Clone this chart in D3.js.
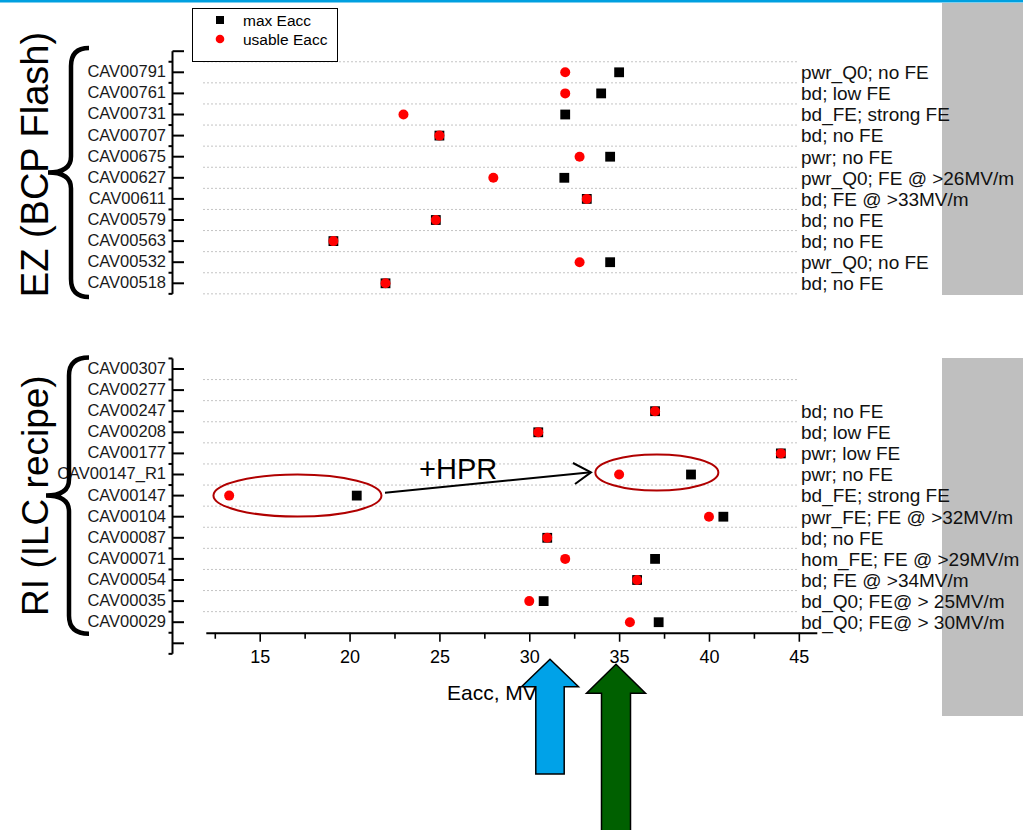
<!DOCTYPE html>
<html>
<head>
<meta charset="utf-8">
<script src="https://cdn.jsdelivr.net/npm/d3@7"></script>
<style>
body { margin: 0; background: #fff; }
text { font-family: "Liberation Sans", Arial, sans-serif; }
</style>
</head>
<body>
<svg id="chart" width="1023" height="830"></svg>
<script>
// EZ (BCP Flash) cavities, top to bottom
let ezCavities = ["CAV00791", "CAV00761", "CAV00731", "CAV00707", "CAV00675", "CAV00627",
    "CAV00611", "CAV00579", "CAV00563", "CAV00532", "CAV00518"];
let ezMax = [35, 34, 32, 25, 34.5, 31.95, 33.2, 24.8, 19.1, 34.5, 22];
let ezUsable = [32, 32, 23, 25, 32.8, 28, 33.2, 24.8, 19.1, 32.8, 22];
let ezNotes = ["pwr_Q0; no FE", "bd; low FE", "bd_FE; strong FE", "bd; no FE", "pwr; no FE",
    "pwr_Q0; FE @ >26MV/m", "bd; FE @ >33MV/m", "bd; no FE", "bd; no FE", "pwr_Q0; no FE", "bd; no FE"];

// RI (ILC recipe) cavities, top to bottom
let riCavities = ["CAV00307", "CAV00277", "CAV00247", "CAV00208", "CAV00177", "CAV00147_R1",
    "CAV00147", "CAV00104", "CAV00087", "CAV00071", "CAV00054", "CAV00035", "CAV00029"];
let riMax = [null, null, 37, 30.5, 44, 39, 20.4, 40.8, 31, 37, 36, 30.8, 37.2];
let riUsable = [null, null, 37, 30.5, 44, 35, 13.3, 40, 31, 32, 36, 30, 35.6];
let riNotes = ["", "", "bd; no FE", "bd; low FE", "pwr; low FE", "pwr; no FE", "bd_FE; strong FE",
    "pwr_FE; FE @ >32MV/m", "bd; no FE", "hom_FE; FE @ >29MV/m", "bd; FE @ >34MV/m",
    "bd_Q0; FE@ > 25MV/m", "bd_Q0; FE@ > 30MV/m"];

let xMajorTicks = [15, 20, 25, 30, 35, 40, 45];
let xMinorTicks = [12.5, 17.5, 22.5, 27.5, 32.5, 37.5, 42.5];

let svg = d3.select("#chart");

let x = d3.scaleLinear().domain([12, 46]).range([205.8, 816.8]);
let yTop = d3.scaleLinear().domain([0, 10]).range([72.3, 283.3]);
let yBot = d3.scaleLinear().domain([0, 12]).range([369, 622.2]);

// grey side panels and top rule
svg.append("rect").attr("x", 942).attr("y", 3).attr("width", 81).attr("height", 292).attr("fill", "#bfbfbf");
svg.append("rect").attr("x", 942).attr("y", 358).attr("width", 81).attr("height", 358).attr("fill", "#bfbfbf");
svg.append("rect").attr("x", 0).attr("y", 0).attr("width", 1023).attr("height", 2.5).attr("fill", "#00a0e0");

function panel(names, maxV, useV, notes, y, gridFrom, gridTo, axisFrom, axisTo) {
    let g = svg.append("g");
    let idx = d3.range(names.length);

    // dotted row separators
    g.selectAll(".grid")
        .data(d3.range(gridFrom, gridTo + 0.01, 1))
        .enter().append("line")
        .attr("x1", 203).attr("x2", 797)
        .attr("y1", d => y(d)).attr("y2", d => y(d))
        .attr("stroke", "#c4c4c4")
        .attr("stroke-dasharray", "2,2");

    // vertical category axis
    g.append("line")
        .attr("x1", 172.5).attr("x2", 172.5)
        .attr("y1", y(axisFrom)).attr("y2", y(axisTo))
        .attr("stroke", "#000").attr("stroke-width", 2);
    let major = [], minor = [];
    for (let v = axisFrom; v <= axisTo + 0.01; v += 0.5) {
        if (Math.abs(v - Math.round(v)) < 0.01) major.push(v); else minor.push(v);
    }
    g.selectAll(".major").data(major).enter().append("line")
        .attr("x1", 172.5).attr("x2", 184)
        .attr("y1", d => y(d)).attr("y2", d => y(d))
        .attr("stroke", "#000").attr("stroke-width", 2);
    g.selectAll(".minor").data(minor).enter().append("line")
        .attr("x1", 168.5).attr("x2", 172.5)
        .attr("y1", d => y(d)).attr("y2", d => y(d))
        .attr("stroke", "#000").attr("stroke-width", 2);

    g.selectAll(".name").data(names).enter().append("text")
        .attr("x", 166).attr("y", (d, i) => y(i)).attr("dy", "0.3em")
        .attr("text-anchor", "end").style("font-size", "16.5px").attr("fill", "#1a1a1a")
        .text(d => d);

    g.selectAll(".note").data(notes).enter().append("text")
        .attr("x", 801).attr("y", (d, i) => y(i)).attr("dy", "0.36em")
        .style("font-size", "19px").attr("fill", "#111")
        .text(d => d);

    g.selectAll(".maxpt").data(idx.filter(i => maxV[i] != null)).enter().append("rect")
        .attr("x", i => x(maxV[i]) - 4.9).attr("y", i => y(i) - 4.9)
        .attr("width", 9.8).attr("height", 9.8).attr("fill", "#000");
    g.selectAll(".usept").data(idx.filter(i => useV[i] != null)).enter().append("circle")
        .attr("cx", i => x(useV[i])).attr("cy", i => y(i))
        .attr("r", 5).attr("fill", "#ff0000");
}

panel(ezCavities, ezMax, ezUsable, ezNotes, yTop, -0.5, 10.5, -1, 10.5);
panel(riCavities, riMax, riUsable, riNotes, yBot, 0.5, 11.5, -0.5, 13.5);

// x axis below the RI panel
let axisY = yBot(12.5);
svg.append("g")
    .attr("transform", "translate(0," + axisY + ")")
    .call(d3.axisBottom(x).tickValues(xMinorTicks).tickSize(6).tickSizeOuter(0).tickFormat(""))
    .call(g => g.select(".domain").remove())
    .selectAll("line").attr("stroke-width", 1.6);
let xa = svg.append("g")
    .attr("transform", "translate(0," + axisY + ")")
    .call(d3.axisBottom(x).tickValues(xMajorTicks).tickSize(9).tickPadding(8).tickSizeOuter(0));
xa.select(".domain").attr("stroke-width", 2);
xa.selectAll(".tick line").attr("stroke-width", 1.6);
xa.selectAll(".tick text").style("font-size", "18px").attr("fill", "#000")
    .style("font-family", "'Liberation Sans', Arial, sans-serif");

svg.append("text")
    .attr("x", 447).attr("y", 700)
    .style("font-size", "21px").attr("fill", "#000")
    .text("Eacc, MV/m");

// legend
let lg = svg.append("g");
lg.append("rect").attr("x", 192.5).attr("y", 8.5).attr("width", 145).attr("height", 53)
    .attr("fill", "#fff").attr("stroke", "#000");
lg.append("rect").attr("x", 216).attr("y", 16).attr("width", 8).attr("height", 8).attr("fill", "#000");
lg.append("circle").attr("cx", 220).attr("cy", 39).attr("r", 4.3).attr("fill", "#ff0000");
lg.append("text").attr("x", 243).attr("y", 26).style("font-size", "15.5px").text("max Eacc");
lg.append("text").attr("x", 243).attr("y", 45).style("font-size", "15.5px").text("usable Eacc");

// curly braces with group titles
function brace(y0, y1, xEnd, xLine, xTip) {
    let ym = (y0 + y1) / 2;
    return "M" + xEnd + "," + y0 +
        " Q" + xLine + "," + y0 + " " + xLine + "," + (y0 + 18) +
        " L" + xLine + "," + (ym - 16) +
        " Q" + xLine + "," + ym + " " + xTip + "," + ym +
        " Q" + xLine + "," + ym + " " + xLine + "," + (ym + 16) +
        " L" + xLine + "," + (y1 - 18) +
        " Q" + xLine + "," + y1 + " " + xEnd + "," + y1;
}
svg.append("path").attr("d", brace(yTop(-1.15), yTop(10.65), 89, 71, 48))
    .attr("fill", "none").attr("stroke", "#000").attr("stroke-width", 4.5);
svg.append("path").attr("d", brace(yBot(-0.55), yBot(12.55), 89, 69, 46))
    .attr("fill", "none").attr("stroke", "#000").attr("stroke-width", 4.5);

svg.append("text")
    .attr("transform", "translate(48," + ((yTop(-1.15) + yTop(10.65)) / 2 - 8) + ") rotate(-90)")
    .attr("text-anchor", "middle").style("font-size", "38px").attr("fill", "#000")
    .text("EZ (BCP Flash)");
svg.append("text")
    .attr("transform", "translate(48," + ((yBot(-0.55) + yBot(12.55)) / 2) + ") rotate(-90)")
    .attr("text-anchor", "middle").style("font-size", "37px").attr("fill", "#000")
    .text("RI (ILC recipe)");

// +HPR annotation
svg.append("ellipse").attr("cx", x(17.1)).attr("cy", yBot(6)).attr("rx", 84).attr("ry", 21)
    .attr("fill", "none").attr("stroke", "#b00000").attr("stroke-width", 2);
svg.append("ellipse").attr("cx", x(37.1)).attr("cy", yBot(5) - 2).attr("rx", 61.5).attr("ry", 18)
    .attr("fill", "none").attr("stroke", "#b00000").attr("stroke-width", 2);
svg.append("line").attr("x1", 385).attr("y1", 492.7).attr("x2", 591).attr("y2", 472.3)
    .attr("stroke", "#000").attr("stroke-width", 2);
svg.append("path").attr("d", "M573,463 L591,472.3 L575,484")
    .attr("fill", "none").attr("stroke", "#000").attr("stroke-width", 2);
svg.append("text").attr("x", 419).attr("y", 479).style("font-size", "29px").attr("fill", "#000").text("+HPR");

// block arrows under the axis
function blockArrow(cx, tipY, headHalf, baseY, shaftHalf, bottom) {
    return [[cx, tipY], [cx + headHalf, baseY], [cx + shaftHalf, baseY], [cx + shaftHalf, bottom],
        [cx - shaftHalf, bottom], [cx - shaftHalf, baseY], [cx - headHalf, baseY]];
}
svg.append("polygon").attr("points", blockArrow(550, 659.3, 28.5, 686.7, 14.2, 774).join(" "))
    .attr("fill", "#00a2e8").attr("stroke", "#000").attr("stroke-width", 1.5);
svg.append("polygon").attr("points", blockArrow(616, 664.3, 29.5, 693.3, 14.5, 845).join(" "))
    .attr("fill", "#006000").attr("stroke", "#000").attr("stroke-width", 1.5);
</script>
</body>
</html>
